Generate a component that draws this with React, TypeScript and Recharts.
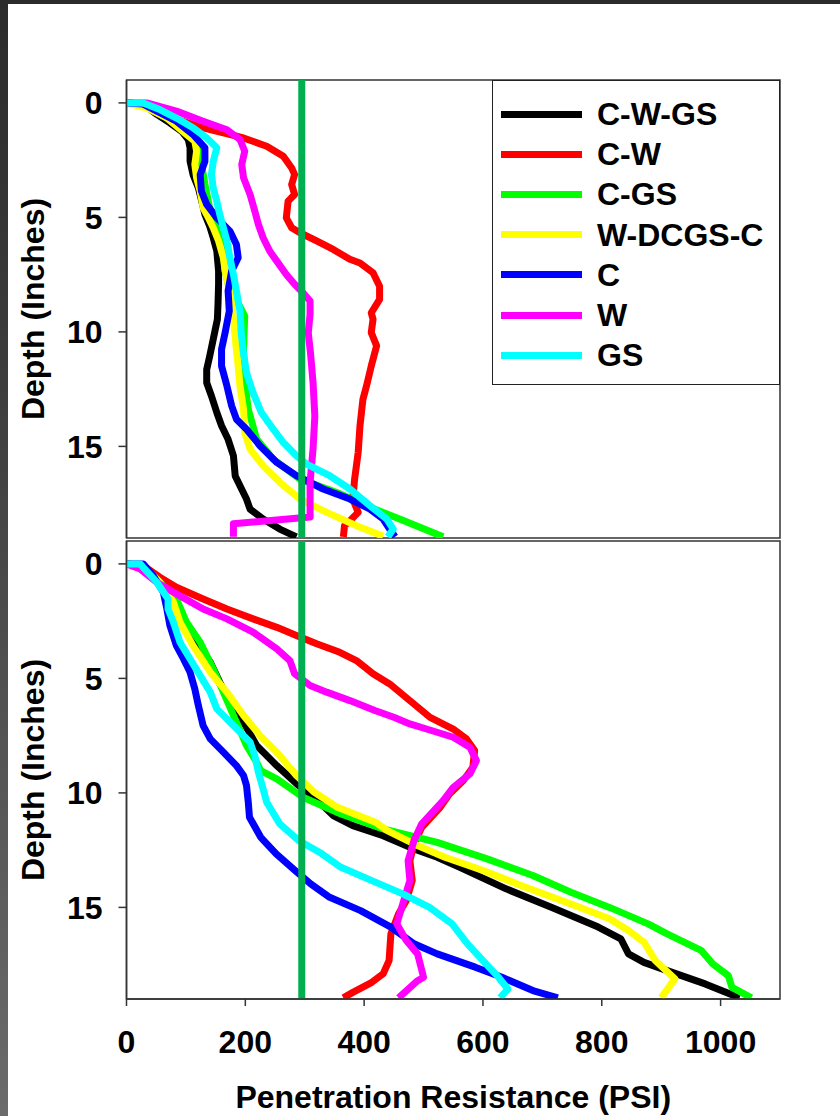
import React from 'react';
import { LineChart, Line, XAxis, YAxis, ReferenceLine, ReferenceArea, Legend } from 'recharts';

type P = [number, number]; // [depth (in), resistance (psi)]

const seriesNames = ['C-W-GS', 'C-W', 'C-GS', 'W-DCGS-C', 'C', 'W', 'GS'];
const seriesColors = ['#000000', '#ff0000', '#00ff00', '#ffff00', '#0000ff', '#ff00ff', '#00ffff'];
const xTicks = [0, 200, 400, 600, 800, 1000];
const yTicks = [0, 5, 10, 15];
const xDomain: [number, number] = [0, 1100];
const yDomain: [number, number] = [-1, 19];
const thresholdPsi = 295;
const xTitle = 'Penetration Resistance (PSI)';
const yTitle = 'Depth (Inches)';

// ---------- upper panel ----------
const topCWGS: P[] = [[0,0],[0.05,28],[0.5,51],[0.87,73],[1.24,93],[1.6,104],[1.96,107],[2.55,107],[3.13,112],[3.71,121],[4.22,126],[4.87,132],[5.38,140],[5.89,146],[6.47,152],[7.34,155],[7.92,155],[8.8,154],[9.45,153],[10.32,146],[11.06,140],[11.64,135],[12.22,135],[12.8,143],[13.52,152],[14.1,160],[14.69,171],[15.41,180],[16.29,183],[16.72,191],[17.3,202],[17.74,208],[18.17,230],[18.61,258],[18.95,286]];
const topCW: P[] = [[0,0],[0.05,28],[0.6,70],[1.09,129],[1.53,197],[1.89,236],[2.33,264],[2.84,278],[3.13,283],[3.56,278],[4.0,283],[4.29,272],[5.02,269],[5.45,278],[5.67,292],[6.03,320],[6.4,348],[6.83,376],[6.99,393],[7.42,415],[8.01,426],[8.58,426],[9.17,412],[9.45,415],[10.03,412],[10.61,421],[11.49,412],[12.36,404],[12.94,398],[14.1,393],[15.26,390],[16.42,384],[17.3,381],[17.88,390],[18.17,379],[18.46,367],[18.95,365]];
const topCGS: P[] = [[0,0],[0.05,28],[0.66,68],[1.38,103],[1.82,124],[2.5,125],[3.56,132],[4.6,140],[5.5,152],[6.5,163],[7.34,166],[8.0,172],[8.6,185],[9.31,199],[10.76,197],[12.21,199],[13.38,205],[14.68,219],[15.56,247],[16.43,292],[17.01,354],[17.66,410],[18.24,466],[18.95,533]];
const topWDCGSC: P[] = [[0,0],[0.22,34],[0.66,68],[1.38,101],[1.67,115],[2.11,118],[2.69,115],[3.27,118],[3.85,124],[4.58,129],[5.02,138],[5.45,146],[6.03,155],[6.76,163],[7.34,166],[7.92,171],[8.65,177],[9.45,180],[10.76,185],[11.49,188],[12.36,191],[13.38,197],[14.39,199],[15.12,208],[15.85,230],[16.57,258],[17.3,292],[17.88,337],[18.46,387],[18.92,432]];
const topC: P[] = [[0,0],[0.05,28],[0.8,84],[1.38,112],[1.96,132],[2.55,132],[3.13,124],[3.85,126],[4.43,135],[5.02,152],[5.6,174],[6.18,185],[6.76,188],[7.34,177],[8.21,171],[9.09,173],[10.03,166],[10.76,160],[11.49,160],[12.36,169],[13.23,177],[13.81,185],[14.25,202],[14.98,225],[15.7,253],[16.28,286],[16.86,331],[17.3,376],[17.74,410],[18.17,432],[18.61,443],[18.95,452]];
const topW: P[] = [[0,0],[0,34],[0.36,84],[0.8,129],[1.17,169],[1.6,191],[2.11,199],[2.69,194],[3.27,197],[4.0,208],[4.73,216],[5.31,222],[5.89,230],[6.47,241],[6.91,253],[7.49,269],[7.92,283],[8.29,297],[8.65,309],[9.23,309],[10.03,306],[11.0,310],[12.21,314],[13.67,317],[15.12,314],[16.57,309],[18.08,309],[18.38,180],[18.95,180]];
const topGS: P[] = [[0,0],[0,28],[0.29,56],[0.66,84],[1.09,112],[1.53,135],[1.96,152],[2.55,146],[3.13,143],[3.71,146],[4.29,152],[4.87,157],[5.45,163],[6.03,169],[6.76,174],[7.49,180],[8.21,185],[9.09,191],[10.0,193],[10.76,196],[11.78,202],[12.65,213],[13.52,227],[14.25,247],[14.83,264],[15.41,286],[15.77,303],[16.28,342],[16.86,376],[17.59,410],[18.17,438],[18.61,449],[18.95,440]];

// ---------- lower panel ----------
const botCWGS: P[] = [[0,0],[0.07,28],[0.8,56],[1.67,84],[2.69,101],[3.42,118],[4.29,141],[5.17,157],[6.04,174],[6.91,197],[7.93,219],[8.81,253],[9.68,290],[10.19,316],[10.99,348],[11.43,381],[11.87,432],[12.45,484],[12.81,523],[13.25,561],[14.19,639],[15.0,716],[15.86,794],[16.37,832],[17.03,845],[17.4,871],[17.76,910],[18.34,974],[18.95,1032]];
const botCW: P[] = [[0,0],[0.07,28],[0.58,56],[1.02,84],[1.53,129],[1.97,169],[2.4,213],[2.77,253],[3.13,286],[3.49,320],[3.86,359],[4.22,387],[4.8,415],[5.24,443],[5.97,477],[6.7,511],[7.21,550],[7.64,572],[8.15,586],[8.88,583],[9.46,567],[10.04,544],[10.63,528],[11.5,497],[12.23,484],[12.96,477],[13.83,481],[14.7,471],[15.28,458],[16.16,445],[17.32,442],[17.9,432],[18.27,413],[18.71,381],[18.95,365]];
const botCGS: P[] = [[0,0],[0.07,28],[0.8,56],[1.53,84],[2.55,101],[3.42,124],[4.59,146],[5.6,163],[6.91,185],[7.93,202],[8.66,219],[9.03,226],[9.39,253],[10.19,297],[10.92,361],[11.57,432],[12.16,523],[12.88,607],[13.61,684],[14.34,748],[15.0,813],[15.72,878],[16.16,910],[16.89,968],[17.47,987],[17.98,1013],[18.49,1019],[18.95,1052]];
const botWDCGSC: P[] = [[0,0],[0.07,28],[0.8,56],[1.67,79],[2.55,90],[3.57,112],[4.73,141],[5.6,169],[6.62,197],[7.5,225],[8.22,253],[9.24,286],[9.95,315],[10.63,355],[11.28,419],[11.65,439],[12.23,484],[12.81,536],[13.39,600],[14.05,665],[14.85,748],[15.5,813],[16.01,845],[16.52,871],[17.32,890],[18.12,923],[18.95,900]];
const botC: P[] = [[0,0],[0,28],[0.51,45],[1.24,62],[1.97,68],[2.69,73],[3.57,84],[4.15,96],[4.73,107],[5.46,115],[6.19,121],[7.06,129],[7.64,141],[8.22,163],[8.81,185],[9.24,197],[9.68,202],[10.41,205],[11.06,207],[11.94,226],[12.66,252],[13.39,284],[13.97,310],[14.56,342],[15.14,394],[15.86,445],[16.59,484],[17.03,523],[17.61,587],[18.05,632],[18.63,684],[18.95,726]];
const botW: P[] = [[0,0],[0.22,23],[0.8,51],[1.31,84],[1.97,129],[2.4,169],[2.98,213],[3.71,253],[4.22,275],[4.8,283],[5.31,309],[5.6,337],[5.97,376],[6.4,418],[6.7,450],[6.99,477],[7.21,505],[7.57,550],[8.01,578],[8.59,589],[9.17,578],[9.76,550],[10.34,533],[11.35,497],[12.08,484],[12.96,474],[13.83,477],[14.85,465],[15.72,455],[16.45,471],[17.03,490],[18.05,500],[18.2,490],[18.95,458]];
const botGS: P[] = [[0,0],[0,23],[0.15,28],[0.8,51],[1.53,70],[1.97,70],[2.55,79],[3.42,90],[4.15,107],[4.88,124],[5.6,141],[6.33,152],[7.06,180],[7.79,208],[8.37,216],[9.1,222],[9.83,230],[10.41,236],[11.35,258],[12.08,290],[12.66,329],[13.25,361],[13.83,413],[14.41,465],[15.0,510],[15.72,548],[16.59,574],[17.32,600],[18.05,626],[18.56,642],[18.95,629]];

const topSeries = [topCWGS, topCW, topCGS, topWDCGSC, topC, topW, topGS];
const botSeries = [botCWGS, botCW, botCGS, botWDCGSC, botC, botW, botGS];

const FONT = '"Liberation Sans", Arial, Helvetica, sans-serif';
const toPts = (arr: P[]) => arr.map(([d, v]) => ({ d, v }));

const LegendBox = () => (
  <div
    style={{
      width: 288,
      height: 305,
      boxSizing: 'border-box',
      border: '1.5px solid #222',
      background: '#fff',
      position: 'relative',
      fontFamily: FONT,
      fontWeight: 700,
      fontSize: 32,
      color: '#000',
    }}
  >
    {seriesNames.map((n, i) => (
      <div
        key={n}
        style={{ position: 'absolute', left: 0, top: 13 + i * 40.2, height: 40, display: 'flex', alignItems: 'center' }}
      >
        <div style={{ marginLeft: 8, width: 81, height: 7, background: seriesColors[i] }} />
        <span style={{ marginLeft: 15, lineHeight: '40px', whiteSpace: 'nowrap' }}>{n}</span>
      </div>
    ))}
  </div>
);

const YTitle = (props: any) => {
  const vb = props.viewBox || {};
  const cy = vb.y + vb.height / 2;
  return (
    <text
      x={33}
      y={cy}
      transform={`rotate(-90, 33, ${cy})`}
      textAnchor="middle"
      dominantBaseline="central"
      fontFamily={FONT}
      fontWeight={700}
      fontSize={32}
      fill="#000"
    >
      {yTitle}
    </text>
  );
};

const XTitle = (props: any) => {
  const vb = props.viewBox || {};
  const cx = vb.x + vb.width / 2;
  return (
    <text x={cx} y={vb.y + 109} textAnchor="middle" fontFamily={FONT} fontWeight={700} fontSize={32} fill="#000">
      {xTitle}
    </text>
  );
};

const tickStyle = { fontFamily: FONT, fontWeight: 700, fontSize: 32, fill: '#000' };

function Panel({ series, top, height, marginTop, showX, showLegend }: any) {
  return (
    <div style={{ position: 'absolute', left: 0, top }}>
      <LineChart
        width={840}
        height={height}
        layout="vertical"
        margin={{ top: marginTop, right: 60, bottom: showX ? 0 : 2, left: 125.5 }}
      >
        <XAxis
          type="number"
          dataKey="v"
          domain={xDomain}
          ticks={xTicks}
          allowDataOverflow
          hide={!showX}
          height={showX ? 117 : 0}
          tick={tickStyle}
          tickSize={7}
          tickMargin={24}
          axisLine={{ stroke: '#333', strokeWidth: 1.5 }}
          tickLine={{ stroke: '#333', strokeWidth: 1.5 }}
          label={showX ? <XTitle /> : undefined}
        />
        <YAxis
          type="number"
          dataKey="d"
          domain={yDomain}
          ticks={yTicks}
          allowDataOverflow
          width={1}
          tick={tickStyle}
          tickSize={8}
          tickMargin={16}
          axisLine={{ stroke: '#333', strokeWidth: 1.5 }}
          tickLine={{ stroke: '#333', strokeWidth: 1.5 }}
          label={<YTitle />}
        />
        <ReferenceArea
          x1={xDomain[0]}
          x2={xDomain[1]}
          y1={yDomain[0]}
          y2={yDomain[1]}
          fill="none"
          stroke="#333"
          strokeWidth={1.5}
        />
        {series.map((s: P[], i: number) => (
          <Line
            key={seriesNames[i]}
            name={seriesNames[i]}
            data={toPts(s)}
            dataKey="v"
            type="linear"
            stroke={seriesColors[i]}
            strokeWidth={7}
            strokeLinejoin="round"
            dot={false}
            activeDot={false}
            isAnimationActive={false}
          />
        ))}
        <ReferenceLine x={thresholdPsi} stroke="#00b050" strokeWidth={7} />
        {showLegend && (
          <Legend
            layout="vertical"
            align="center"
            verticalAlign="middle"
            wrapperStyle={{ left: 492, top: 80, width: 288, height: 305 }}
            content={() => <LegendBox />}
          />
        )}
      </LineChart>
    </div>
  );
}

export default function App() {
  return (
    <div
      style={{
        position: 'absolute',
        left: 0,
        top: 0,
        width: 840,
        height: 1116,
        background: '#2b2b2b',
        overflow: 'hidden',
      }}
    >
      <div
        style={{
          position: 'absolute',
          left: 0,
          top: 0,
          width: 8,
          height: 1116,
          background: 'linear-gradient(to bottom, #2b2b2b 0%, #3a3a3a 30%, #6b6b6b 100%)',
        }}
      />
      <div style={{ position: 'absolute', left: 8, top: 4, width: 832, height: 1112, background: '#fff' }} />
      <Panel series={topSeries} top={0} height={540} marginTop={80} showX={false} showLegend />
      <Panel series={botSeries} top={540} height={576} marginTop={1} showX showLegend={false} />
    </div>
  );
}
